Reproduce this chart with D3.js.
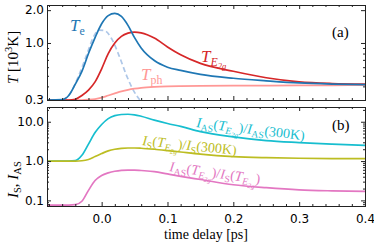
<!DOCTYPE html>
<html>
<head>
<meta charset="utf-8">
<script src="https://cdn.jsdelivr.net/npm/d3@7"></script>
<style>
  body { margin: 0; background: #fff; }
  svg { display: block; }
  .tick text { font-family: "DejaVu Sans", sans-serif; font-size: 12px; fill: #000; }
  .domain { stroke: #222; }
  .tick line { stroke: #222; }
</style>
</head>
<body>
<script>
// time grid (ps)
var time = [-0.083, -0.06, -0.05, -0.04, -0.03, -0.02, -0.01, 0.0, 0.01, 0.02, 0.03, 0.04,
            0.05, 0.06, 0.08, 0.1, 0.12, 0.15, 0.2, 0.25, 0.3, 0.35, 0.4];

// panel (a): temperatures [10^3 K]
var tElec = [0.3, 0.302, 0.33, 0.42, 0.55, 0.8, 1.12, 1.5, 1.78, 1.87, 1.75, 1.45,
             1.12, 0.9, 0.69, 0.6, 0.56, 0.515, 0.475, 0.45, 0.43, 0.42, 0.415];
var tE2g  = [0.3, 0.3, 0.3, 0.305, 0.33, 0.37, 0.44, 0.58, 0.8, 1.0, 1.15, 1.23,
             1.26, 1.24, 1.11, 0.92, 0.78, 0.65, 0.55, 0.48, 0.44, 0.425, 0.42];
var tPh   = [0.3, 0.3, 0.3, 0.3, 0.3, 0.302, 0.306, 0.315, 0.33, 0.345, 0.36, 0.372,
             0.381, 0.388, 0.396, 0.4, 0.402, 0.404, 0.406, 0.407, 0.408, 0.409, 0.41];
// pump pulse (dashed)
var pulseTime = [-0.06, -0.05, -0.035, -0.022, -0.012, -0.004, 0.004, 0.015, 0.027, 0.038, 0.048, 0.058];
var pulse     = [0.3, 0.33, 0.5, 0.8, 1.15, 1.31, 1.3, 1.1, 0.75, 0.5, 0.37, 0.3];

// panel (b): intensity ratios
var asRatio = [1.0, 1.0, 1.0, 1.03, 1.4, 2.7, 5.3, 8.5, 12, 14.3, 15.3, 15.5,
               15, 13.8, 11, 9, 7.6, 5.6, 4.1, 3.3, 2.95, 2.7, 2.5];
var sRatio  = [1.0, 1.0, 1.0, 1.0, 1.02, 1.1, 1.3, 1.55, 1.82, 2.0, 2.1, 2.15,
               2.15, 2.12, 2.0, 1.85, 1.7, 1.5, 1.3, 1.22, 1.18, 1.16, 1.15];
var asOverS = [0.076, 0.076, 0.076, 0.078, 0.095, 0.18, 0.32, 0.43, 0.5, 0.55, 0.58, 0.59,
               0.59, 0.575, 0.54, 0.47, 0.41, 0.34, 0.25, 0.21, 0.185, 0.175, 0.17];

var xTicks = [0.0, 0.1, 0.2, 0.3, 0.4];
var xMinor = [-0.08, -0.06, -0.04, -0.02, 0.02, 0.04, 0.06, 0.08, 0.12, 0.14, 0.16, 0.18,
              0.22, 0.24, 0.26, 0.28, 0.32, 0.34, 0.36, 0.38];
var yTicksA = [0.3, 1.0, 2.0];
var yMinorA = [0.4, 0.5, 0.6, 0.7, 0.8, 0.9];
var yTicksB = [0.1, 1.0, 10.0];
var yMinorB = [0.08, 0.09, 0.2, 0.3, 0.4, 0.5, 0.6, 0.7, 0.8, 0.9, 2, 3, 4, 5, 6, 7, 8, 9, 20];

var w = 374, h = 242;
var left = 47, right = 365;
var aTop = 5, aBot = 100, bTop = 107, bBot = 206;
var serif = "'Liberation Serif', 'DejaVu Serif', serif";

var svg = d3.select("body").append("svg").attr("width", w).attr("height", h);

var x = d3.scaleLinear().domain([-0.083, 0.4]).range([left, right]);
var yA = d3.scaleLog().domain([0.3, 2.23]).range([aBot, aTop]);
var yB = d3.scaleLog().domain([0.072, 23.7]).range([bBot, bTop]);

svg.append("defs").append("clipPath").attr("id", "clipA")
   .append("rect").attr("x", left).attr("y", aTop).attr("width", right - left).attr("height", aBot - aTop);
svg.select("defs").append("clipPath").attr("id", "clipB")
   .append("rect").attr("x", left).attr("y", bTop).attr("width", right - left).attr("height", bBot - bTop);

function drawLine(g, xs, ys, yScale, color, dash, width) {
  var pts = xs.map(function(t, i) { return [t, ys[i]]; });
  var line = d3.line()
    .x(function(d) { return x(d[0]); })
    .y(function(d) { return yScale(d[1]); })
    .curve(d3.curveMonotoneX);
  g.append("path").attr("d", line(pts))
    .attr("fill", "none").attr("stroke", color)
    .attr("stroke-width", width || 1.7)
    .attr("stroke-dasharray", dash || null);
}

function frame(yScale, top, bot, majors, minors, showX) {
  var g = svg.append("g");
  // left
  g.append("g").attr("transform", "translate(" + left + ",0)")
   .call(d3.axisLeft(yScale).tickValues(majors).tickSize(-4).tickPadding(3).tickFormat(d3.format(".1f")));
  g.append("g").attr("transform", "translate(" + left + ",0)")
   .call(d3.axisLeft(yScale).tickValues(minors).tickSize(-2).tickFormat(""));
  // right
  g.append("g").attr("transform", "translate(" + right + ",0)")
   .call(d3.axisRight(yScale).tickValues(majors).tickSize(-4).tickFormat(""));
  g.append("g").attr("transform", "translate(" + right + ",0)")
   .call(d3.axisRight(yScale).tickValues(minors).tickSize(-2).tickFormat(""));
  // bottom
  var xb = d3.axisBottom(x).tickValues(xTicks).tickSize(-4).tickPadding(8).tickFormat(d3.format(".1f"));
  if (!showX) xb.tickFormat("");
  g.append("g").attr("transform", "translate(0," + bot + ")").call(xb);
  g.append("g").attr("transform", "translate(0," + bot + ")")
   .call(d3.axisBottom(x).tickValues(xMinor).tickSize(-2).tickFormat(""));
  // top
  g.append("g").attr("transform", "translate(0," + top + ")")
   .call(d3.axisTop(x).tickValues(xTicks).tickSize(-4).tickFormat(""));
  g.append("g").attr("transform", "translate(0," + top + ")")
   .call(d3.axisTop(x).tickValues(xMinor).tickSize(-2).tickFormat(""));
  g.selectAll(".domain").attr("stroke-width", 1);
  return g;
}

// rich text: segments [text, italic, level]  level 0 normal, 1 sub, 2 subsub, -1 sup
function rich(parent, px, py, segs, size, color, rot) {
  var t = parent.append("text")
    .attr("transform", "translate(" + px + "," + py + ") rotate(" + (rot || 0) + ")")
    .attr("font-family", serif).attr("font-size", size).attr("fill", color);
  var cur = 0;
  segs.forEach(function(s) {
    var lvl = s[2] || 0;
    var off = lvl === 1 ? 0.22 : lvl === 2 ? 0.4 : lvl === -1 ? -0.4 : 0;
    var fs = lvl === 0 ? size : lvl === 2 ? size * 0.5 : size * 0.7;
    t.append("tspan").text(s[0])
      .attr("font-style", s[1] ? "italic" : "normal")
      .attr("font-size", fs)
      .attr("dy", ((off - cur) * size).toFixed(2));
    cur = off;
  });
  return t;
}

// panel (a)
var gA = svg.append("g").attr("clip-path", "url(#clipA)");
drawLine(gA, pulseTime, pulse, yA, "#aec7e8", "5,3", 1.7);
drawLine(gA, time, tPh, yA, "#ff9896", null, 1.7);
drawLine(gA, time, tE2g, yA, "#d62728", null, 1.7);
drawLine(gA, time, tElec, yA, "#1f77b4", null, 1.7);
frame(yA, aTop, aBot, yTicksA, yMinorA, false);

// panel (b)
var gB = svg.append("g").attr("clip-path", "url(#clipB)");
drawLine(gB, time, asRatio, yB, "#17becf");
drawLine(gB, time, sRatio, yB, "#bcbd22");
drawLine(gB, time, asOverS, yB, "#e377c2");
frame(yB, bTop, bBot, yTicksB, yMinorB, true);

// annotations
rich(svg, 70, 31, [["T", true], ["e", false, 1]], 17, "#1f77b4");
rich(svg, 201, 62, [["T", true], ["E", true, 1], ["2g", true, 2]], 17, "#d62728");
rich(svg, 141, 80, [["T", true], ["ph", false, 1]], 17, "#ff9896");
rich(svg, 332, 37, [["(a)", false]], 15, "#000");
rich(svg, 332, 130, [["(b)", false]], 15, "#000");

rich(svg, 196, 127, [["I", true], ["AS", false, 1], ["(", false], ["T", true], ["E", true, 1], ["2g", true, 2],
                     [")/", false], ["I", true], ["AS", false, 1], ["(300K)", false]], 14, "#17becf", 7);
rich(svg, 142, 145, [["I", true], ["S", false, 1], ["(", false], ["T", true], ["E", true, 1], ["2g", true, 2],
                     [")/", false], ["I", true], ["S", false, 1], ["(300K)", false]], 14, "#bcbd22", 6);
rich(svg, 169, 171, [["I", true], ["AS", false, 1], ["(", false], ["T", true], ["E", true, 1], ["2g", true, 2],
                     [")/", false], ["I", true], ["S", false, 1], ["(", false], ["T", true], ["E", true, 1], ["2g", true, 2],
                     [")", false]], 14, "#e377c2", 8);

// axis titles
rich(svg, 18, 84, [["T", true], [" [10", false], ["3", false, -1], ["K]", false]], 15, "#000", -90);
rich(svg, 18, 198, [["I", true], ["S", false, 1], [", ", false], ["I", true], ["AS", false, 1]], 15, "#000", -90);
svg.append("text").attr("x", 206).attr("y", 239).attr("text-anchor", "middle")
   .attr("font-family", serif).attr("font-size", 14).text("time delay [ps]");
</script>
</body>
</html>
